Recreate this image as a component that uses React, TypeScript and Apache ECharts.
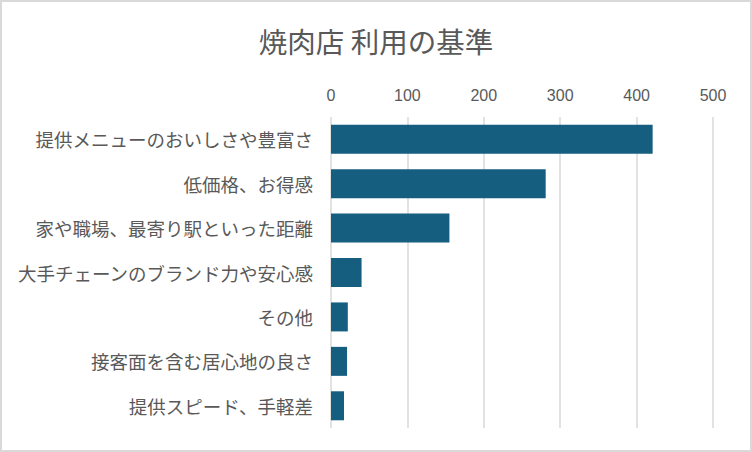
import React, { useEffect, useRef } from 'react';
import * as echarts from 'echarts';

const categories = [
  '提供メニューのおいしさや豊富さ',
  '低価格、お得感',
  '家や職場、最寄り駅といった距離',
  '大手チェーンのブランド力や安心感',
  'その他',
  '接客面を含む居心地の良さ',
  '提供スピード、手軽差',
];
const counts = [421, 281, 155, 40, 22, 21, 17];
const titleText = '焼肉店 利用の基準';

const App = () => {
  const chartRef = useRef<HTMLDivElement>(null);

  useEffect(() => {
    document.body.style.margin = '0';
    const myChart = echarts.init(chartRef.current, null, { renderer: 'svg' });
    const option = {
      animation: false,
      backgroundColor: '#fff',
      title: {
        text: titleText,
        left: 'center',
        top: 21,
        textStyle: {
          fontFamily: 'Noto Sans CJK JP',
          fontSize: 28.5,
          fontWeight: 'normal',
          color: '#595959',
        },
      },
      graphic: [
        {
          type: 'rect',
          shape: { x: 1, y: 1, width: 750, height: 450 },
          style: { fill: 'none', stroke: '#d9d9d9', lineWidth: 2 },
          silent: true,
        },
      ],
      grid: { left: 331, right: 39, top: 117, bottom: 24 },
      xAxis: {
        type: 'value',
        position: 'top',
        min: 0,
        max: 500,
        interval: 100,
        axisLine: { show: false },
        axisTick: { show: false },
        axisLabel: {
          margin: 14,
          fontFamily: 'Liberation Sans',
          fontSize: 16,
          color: '#595959',
        },
        splitLine: { lineStyle: { color: '#d9d9d9', width: 1.5 } },
      },
      yAxis: {
        type: 'category',
        inverse: true,
        data: categories,
        axisLine: { show: false },
        axisTick: { show: false },
        axisLabel: {
          margin: 18,
          fontFamily: 'Noto Sans CJK JP',
          fontSize: 18.5,
          color: '#595959',
        },
      },
      series: [
        {
          type: 'bar',
          data: counts,
          barWidth: 29,
          itemStyle: { color: '#165e80' },
        },
      ],
    };
    myChart.setOption(option);
    return () => {
      myChart.dispose();
    };
  }, []);

  return <div ref={chartRef} style={{ width: '752px', height: '452px' }}></div>;
};

export default App;
